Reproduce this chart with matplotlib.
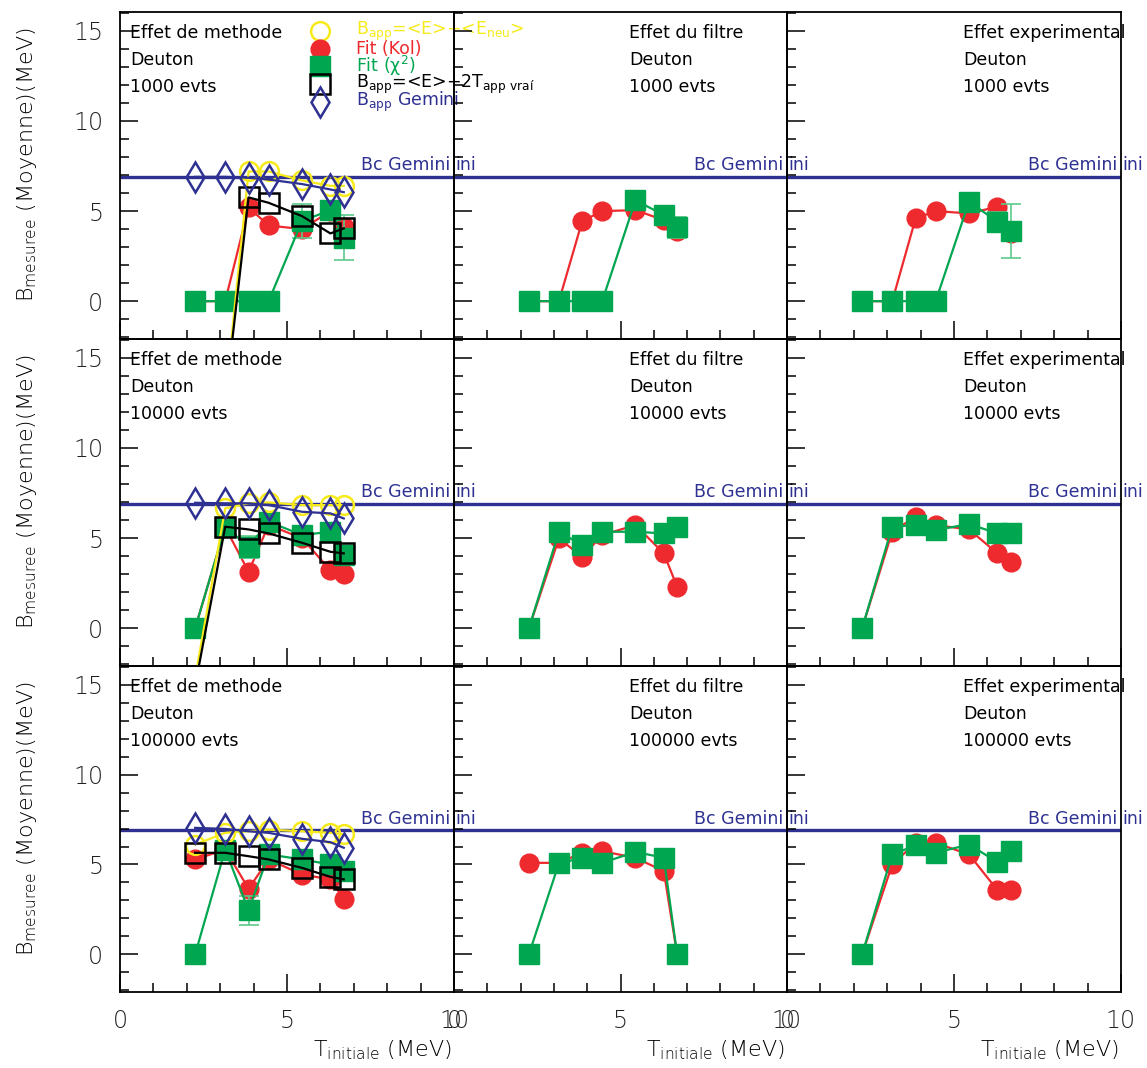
import numpy as np
import matplotlib
matplotlib.use('Agg')
import matplotlib.pyplot as plt
from matplotlib.ticker import MultipleLocator

plt.rcParams['font.family'] = ['DejaVu Sans']
plt.rcParams['mathtext.default'] = 'regular'

# ---- data ----
t_init = [2.25, 3.15, 3.85, 4.45, 5.45, 6.3, 6.7]
bc_gemini = 6.9
row_labels = ['1000 evts', '10000 evts', '100000 evts']
col_titles = ['Effet de methode', 'Effet du filtre', 'Effet experimental']

# Effet de methode (column 0), one entry per statistics row
meth_yellow = [[-6.0, -5.5, 7.2, 7.2, 6.7, 6.4, 6.4],
               [-2.75, 6.65, 6.93, 6.98, 6.83, 6.83, 6.83],
               [6.11, 6.76, 6.85, 6.94, 6.85, 6.76, 6.67]]
meth_red = [[0, 0, 5.2, 4.2, 4.0, 5.0, 4.1],
            [0, 5.6, 3.13, 5.74, 4.98, 3.22, 2.98],
            [5.28, 5.83, 3.65, 5.28, 4.44, 4.17, 3.09]]
meth_green = [[0, 0, 0, 0, 4.45, 5.05, 3.53],
              [0, 5.63, 4.52, 5.91, 5.17, 5.35, 4.06],
              [0, 5.83, 2.45, 5.56, 5.28, 5.0, 4.63]]
meth_green_err = [[0, 0, 0, 0, 0.93, 0.3, 1.25],
                  [0, 0, 0.6, 0, 0, 0, 0.5],
                  [0, 0, 0.8, 0, 0, 0, 0]]
meth_black = [[-6.0, -5.6, 5.76, 5.46, 4.72, 3.76, 4.04],
              [-3.2, 5.63, 5.48, 5.26, 4.74, 4.24, 4.15],
              [5.65, 5.65, 5.46, 5.28, 4.81, 4.31, 4.17]]
meth_blue = [[6.9, 6.9, 6.85, 6.75, 6.5, 6.2, 6.05],
             [6.96, 6.93, 6.93, 6.83, 6.46, 6.37, 6.09],
             [7.04, 6.98, 6.85, 6.76, 6.43, 6.24, 5.93]]

# Effet du filtre (column 1)
filt_red = [[0, 0, 4.44, 5.0, 5.05, 4.5, 3.9],
            [0, 4.98, 3.96, 5.17, 5.72, 4.15, 2.3],
            [5.09, 5.09, 5.65, 5.74, 5.37, 4.63, 0]]
filt_green = [[0, 0, 0, 0, 5.6, 4.78, 4.09],
              [0, 5.35, 4.61, 5.35, 5.35, 5.26, 5.63],
              [0, 5.06, 5.37, 5.09, 5.7, 5.37, 0]]
filt_green_err = [[0, 0, 0, 0, 0.4, 0.5, 0.6],
                  [0, 0, 0.5, 0.4, 0, 0.5, 0.35],
                  [0, 0, 0, 0, 0, 0, 0]]

# Effet experimental (column 2)
exp_red = [[0, 0, 4.59, 5.0, 4.87, 5.24, 3.8],
           [0, 5.35, 6.19, 5.72, 5.48, 4.15, 3.69],
           [0, 5.0, 6.2, 6.2, 5.56, 3.57, 3.57]]
exp_green = [[0, 0, 0, 0, 5.52, 4.41, 3.9],
             [0, 5.63, 5.72, 5.44, 5.78, 5.26, 5.26],
             [0, 5.56, 6.06, 5.65, 6.11, 5.13, 5.74]]
exp_green_err = [[0, 0, 0, 0, 0.3, 0.55, 1.5],
                 [0, 0, 0, 0.3, 0, 0, 0],
                 [0, 0, 0, 0, 0, 0, 0]]

legend_labels = [r'B$_{app}$=<E>$-$<E$_{neu}$>', 'Fit (Kol)', r'Fit ($\chi^2$)',
                 r'B$_{app}$=<E>$-$2T$_{app\ vraí}$', r'B$_{app}$ Gemini']

# ---- style ----
RED = '#ee2a2f'
GREEN = '#00a650'
GREEN_ERR = '#5cc98a'
YELLOW = '#f7ea1a'
BLUE = '#2e3192'
W, H = 1147, 1068
x_edges = [120, 454, 787, 1121]
y_edges = [12, 339, 666, 992]
ylim = (-2.1, 16.05)

fig = plt.figure(figsize=(W / 100, H / 100), dpi=100)
fig.patch.set_facecolor('white')

ms_c, ms_s, ms_d = 13.5, 14.5, 15
lw = 1.6


def draw_red(ax, y):
    ax.plot(t_init, y, '-o', color=RED, lw=lw, ms=ms_c, mec=RED, zorder=2, clip_on=True)


def draw_green(ax, y, err):
    e = np.array(err, dtype=float)
    idx = e > 0
    ax.errorbar(np.array(t_init)[idx], np.array(y)[idx], yerr=e[idx], fmt='none',
                ecolor=GREEN_ERR, elinewidth=1.2, capsize=7, capthick=1.2, zorder=2.5)
    ax.plot(t_init, y, '-s', color=GREEN, lw=lw, ms=ms_s, mec=GREEN, zorder=3)


axes = []
for r in range(3):
    for c in range(3):
        x0, x1 = x_edges[c], x_edges[c + 1]
        y0, y1 = y_edges[r], y_edges[r + 1]
        ax = fig.add_axes([x0 / W, 1 - y1 / H, (x1 - x0) / W, (y1 - y0) / H])
        ax.set_facecolor('none')
        ax.set_xlim(0, 10)
        ax.set_ylim(*ylim)
        ax.xaxis.set_major_locator(MultipleLocator(5))
        ax.xaxis.set_minor_locator(MultipleLocator(1))
        ax.yaxis.set_major_locator(MultipleLocator(5))
        ax.yaxis.set_minor_locator(MultipleLocator(1))
        ax.tick_params(which='both', direction='in', top=False, right=False, width=1.1,
                       labelsize=17, labelcolor='#222222')
        ax.tick_params(which='major', length=13)
        ax.tick_params(which='minor', length=6.5)
        ax.tick_params(axis='y', pad=12)
        ax.tick_params(axis='x', pad=12)
        for s in ax.spines.values():
            s.set_linewidth(1.3)
        if c != 0:
            ax.set_yticklabels([])
        else:
            ax.set_yticks([0, 5, 10, 15])
            ax.set_yticklabels(['0', '5', '10', '15'], fontweight='light')
        if r != 2:
            ax.set_xticklabels([])
        else:
            ax.set_xticks([0, 5, 10])
            ax.set_xticklabels(['0', '5', '10'], fontweight='light')

        ax.axhline(bc_gemini, color=BLUE, lw=2.4, zorder=1.5)
        ax.text(7.22, 7.55, 'Bc Gemini', color=BLUE, fontsize=12.5, va='center', ha='left')
        ax.text(10.03, 7.55, 'ini', color=BLUE, fontsize=12.5, va='center', ha='left', clip_on=False)

        tx = 0.3 if c == 0 else 5.27
        ax.text(tx, 14.9, col_titles[c], fontsize=12.5, va='center')
        ax.text(tx, 13.4, 'Deuton', fontsize=12.5, va='center')
        ax.text(tx, 11.9, row_labels[r], fontsize=12.5, va='center')

        if c == 0:
            draw_red(ax, meth_red[r])
            draw_green(ax, meth_green[r], meth_green_err[r])
            ax.plot(t_init, meth_yellow[r], '-o', color=YELLOW, lw=lw, ms=ms_c, mfc='none',
                    mec=YELLOW, mew=1.8, zorder=4)
            ax.plot(t_init, meth_black[r], '-s', color='black', lw=lw, ms=ms_s, mfc='none',
                    mec='black', mew=1.8, zorder=5)
            ax.plot(t_init, meth_blue[r], '-d', color=BLUE, lw=lw, ms=ms_d, mfc='none',
                    mec=BLUE, mew=1.8, zorder=6)
        elif c == 1:
            draw_red(ax, filt_red[r])
            draw_green(ax, filt_green[r], filt_green_err[r])
        else:
            draw_red(ax, exp_red[r])
            draw_green(ax, exp_green[r], exp_green_err[r])

        if r == 2:
            fig.text((x1 - 2) / W, 1 - 1050 / H, r'T$_{initiale}$ (MeV)', fontsize=16,
                     ha='right', va='center', fontweight='light')
        axes.append(ax)

    fig.text(27 / W, 1 - (165 + 327 * r) / H, r'B$_{mesuree}$ (Moyenne)(MeV)', fontsize=16,
             rotation=90, ha='center', va='center', fontweight='light')

# legend inside the first panel
ax0 = axes[0]
leg_y = [15.0, 14.02, 13.05, 12.05, 11.05]
leg_style = [dict(marker='o', ms=ms_c, mfc='none', mec=YELLOW, mew=1.8),
             dict(marker='o', ms=ms_c, mfc=RED, mec=RED),
             dict(marker='s', ms=ms_s, mfc=GREEN, mec=GREEN),
             dict(marker='s', ms=ms_s, mfc='none', mec='black', mew=1.8),
             dict(marker='d', ms=ms_d, mfc='none', mec=BLUE, mew=1.8)]
leg_colors = [YELLOW, RED, GREEN, 'black', BLUE]
for yy, st, lab, col in zip(leg_y, leg_style, legend_labels, leg_colors):
    ax0.plot([6.0], [yy], ls='none', zorder=7, clip_on=False, **st)
    ax0.text(7.07, yy, lab, color=col, fontsize=12.5, va='center', ha='left', zorder=7)

plt.savefig('out.png', dpi=100, facecolor='white')
